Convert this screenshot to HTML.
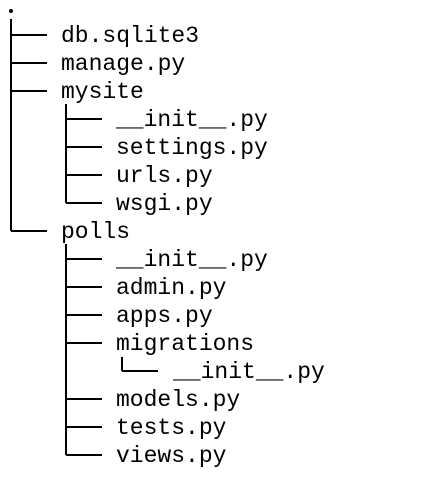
<!DOCTYPE html>
<html><head><meta charset="utf-8"><style>
html,body{margin:0;padding:0;background:#fff;width:432px;height:486px;overflow:hidden}
text{font-family:"Liberation Mono",monospace;font-size:23px;fill:#000}
</style></head><body>
<svg width="432" height="486" viewBox="0 0 432 486" xmlns="http://www.w3.org/2000/svg">
<circle cx="11" cy="11" r="2" fill="#000"/>
<g stroke="#000" stroke-width="2" fill="none">
<line x1="11" y1="19" x2="11" y2="231"/>
<line x1="11" y1="35" x2="47" y2="35"/>
<line x1="11" y1="63" x2="47" y2="63"/>
<line x1="11" y1="91" x2="47" y2="91"/>
<line x1="11" y1="231" x2="47" y2="231"/>
<line x1="66" y1="104" x2="66" y2="203"/>
<line x1="66" y1="119" x2="102" y2="119"/>
<line x1="66" y1="147" x2="102" y2="147"/>
<line x1="66" y1="175" x2="102" y2="175"/>
<line x1="66" y1="203" x2="102" y2="203"/>
<line x1="66" y1="244" x2="66" y2="455"/>
<line x1="66" y1="259" x2="102" y2="259"/>
<line x1="66" y1="287" x2="102" y2="287"/>
<line x1="66" y1="315" x2="102" y2="315"/>
<line x1="66" y1="343" x2="102" y2="343"/>
<line x1="66" y1="399" x2="102" y2="399"/>
<line x1="66" y1="427" x2="102" y2="427"/>
<line x1="66" y1="455" x2="102" y2="455"/>
<line x1="122" y1="357" x2="122" y2="371"/>
<line x1="122" y1="371" x2="158" y2="371"/>
</g>
<g>
<text x="61" y="42">db.sqlite3</text>
<text x="61" y="70">manage.py</text>
<text x="61" y="98">mysite</text>
<text x="116" y="126">__init__.py</text>
<text x="116" y="154">settings.py</text>
<text x="116" y="182">urls.py</text>
<text x="116" y="210">wsgi.py</text>
<text x="61" y="238">polls</text>
<text x="116" y="266">__init__.py</text>
<text x="116" y="294">admin.py</text>
<text x="116" y="322">apps.py</text>
<text x="116" y="350">migrations</text>
<text x="173" y="378">__init__.py</text>
<text x="116" y="406">models.py</text>
<text x="116" y="434">tests.py</text>
<text x="116" y="462">views.py</text>
</g>
</svg>
</body></html>
